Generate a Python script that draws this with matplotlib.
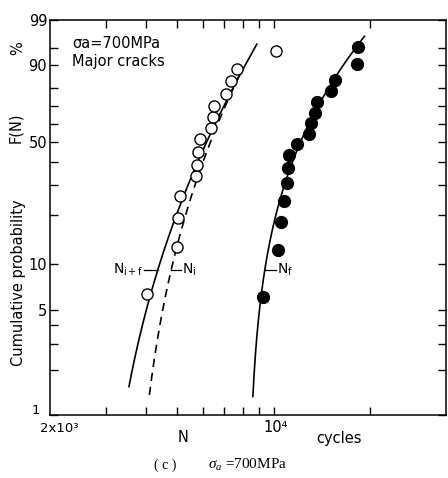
import numpy as np
import matplotlib.pyplot as plt

plt.rcParams['font.family'] = ['DejaVu Sans']
plt.rcParams['mathtext.fontset'] = 'custom'
plt.rcParams['mathtext.rm'] = 'DejaVu Sans'
plt.rcParams['mathtext.it'] = 'Liberation Serif:italic'

# cycles N and cumulative probability F(N) in %
n_init = [4010, 4980, 5040, 5100, 5720, 5760, 5800, 5890, 6370, 6460, 6510, 7100, 7380, 7680, 10150]
f_init = [6.4, 12.8, 19.2, 25.8, 33.4, 38.5, 44.7, 51.4, 58.0, 64.2, 70.0, 76.6, 83.1, 88.3, 94.2]
n_fail = [9280, 10340, 10520, 10800, 11030, 11110, 11190, 11850, 12900, 13060,
          13470, 13630, 15100, 15550, 18250, 18390]
f_fail = [6.1, 12.1, 18.1, 24.3, 30.7, 37.3, 43.3, 48.8, 54.5, 60.5, 66.6, 72.7, 78.4, 83.8, 90.1, 95.2]

# 3-parameter Weibull fits: (N0, eta, b, F from, F to)
fit_if = (2700, 3985, 2.65, 1.55, 95.8)
fit_i = (3500, 3294, 2.49, 1.36, 88.0)
fit_f = (8300, 4830, 1.565, 1.33, 97.2)

y_ticks = [1, 2, 3, 4, 5, 10, 20, 30, 40, 50, 60, 70, 80, 90, 95, 99]
y_labels = ['', '', '', '', '5', '10', '', '', '', '50', '', '', '', '90', '', '99']
x_ticks = [3000, 4000, 5000, 6000, 7000, 8000, 9000, 10000, 20000]


def fwd(p):
    p = np.clip(np.asarray(p, dtype=float), 1e-6, 100 - 1e-6)
    return np.log(-np.log(1 - p / 100))


def inv(w):
    return 100 * (1 - np.exp(-np.exp(w)))


def weibull_curve(fit):
    n0, eta, b, lo, hi = fit
    w = np.linspace(fwd(lo), fwd(hi), 200)
    return n0 + eta * np.exp(w / b), inv(w)


def n_at(fit, p):
    n0, eta, b = fit[:3]
    return n0 + eta * (-np.log(1 - p / 100)) ** (1 / b)


fig = plt.figure(figsize=(4.48, 4.78), dpi=100)
ax = fig.add_axes([50 / 448, 1 - 415 / 478, 396 / 448, 395 / 478])
ax.set_xscale('log')
ax.set_yscale('function', functions=(fwd, inv))
ax.set_xlim(2000, 34530)
ax.set_ylim(1, 99)

x, y = weibull_curve(fit_if)
ax.plot(x, y, color='black', lw=1.2)
x, y = weibull_curve(fit_i)
ax.plot(x, y, color='black', lw=1.2, ls=(0, (5, 3.5)))
x, y = weibull_curve(fit_f)
ax.plot(x, y, color='black', lw=1.2)

ax.plot(n_init, f_init, 'o', ms=8, mfc='white', mec='black', mew=1.0)
ax.plot(n_fail, f_fail, 'o', ms=8.5, mfc='black', mec='black')

# curve labels with short leaders
p_lab = 9.1
a = n_at(fit_if, p_lab)
ax.plot([a / 10 ** (14 / 320), a], [p_lab, p_lab], color='black', lw=0.9)
ax.text(a / 10 ** (15 / 320), p_lab, r'N$_{\mathrm{i+f}}$', ha='right', va='center', fontsize=10)
a = n_at(fit_i, p_lab)
ax.plot([a, a * 10 ** (10 / 320)], [p_lab, p_lab], color='black', lw=0.9)
ax.text(a * 10 ** (11 / 320), p_lab, r'N$_{\mathrm{i}}$', ha='left', va='center', fontsize=10)
a = n_at(fit_f, p_lab)
ax.plot([a, a * 10 ** (11 / 320)], [p_lab, p_lab], color='black', lw=0.9)
ax.text(a * 10 ** (12 / 320), p_lab, r'N$_{\mathrm{f}}$', ha='left', va='center', fontsize=10)

ax.text(0.055, 0.94, 'σa=700MPa', transform=ax.transAxes, fontsize=10.5, va='center')
ax.text(0.055, 0.895, 'Major cracks', transform=ax.transAxes, fontsize=10.5, va='center')

ax.set_yticks(y_ticks)
ax.set_yticklabels(y_labels)
ax.set_xticks(x_ticks)
ax.set_xticklabels([''] * len(x_ticks))
ax.minorticks_off()
ax.tick_params(direction='in', top=True, right=True, length=6, width=1, pad=2, labelsize=10.5)
for s in ax.spines.values():
    s.set_linewidth(1.1)

fig.text(19 / 448, 1 - 283 / 478, 'Cumulative probability', rotation=90, ha='center', va='center', fontsize=10.5)
fig.text(16 / 448, 1 - 128 / 478, 'F(N)', rotation=90, ha='center', va='center', fontsize=10.5)
fig.text(18 / 448, 1 - 48 / 478, '%', rotation=90, ha='center', va='center', fontsize=10.5)

# bottom-left corner labels: lowest probability and lowest cycle count
fig.text(36 / 448, 1 - 411 / 478, '1', ha='center', va='center', fontsize=9.5)
fig.text(40 / 448, 1 - 429 / 478, '2x10³', ha='left', va='center', fontsize=9.5)
fig.text(276 / 448, 1 - 428 / 478, '10⁴', ha='center', va='center', fontsize=10.5)
fig.text(183 / 448, 1 - 438 / 478, 'N', ha='center', va='center', fontsize=10.5)
fig.text(339 / 448, 1 - 438 / 478, 'cycles', ha='center', va='center', fontsize=10.5)

fig.text(165 / 448, 1 - 465 / 478, '( c )', ha='center', va='center', fontsize=10, family='Liberation Serif')
fig.text(248 / 448, 1 - 465 / 478, r'$\sigma_a$ =700MPa', ha='center', va='center', fontsize=11,
         family='Liberation Serif')

fig.savefig('out.png', dpi=100)
